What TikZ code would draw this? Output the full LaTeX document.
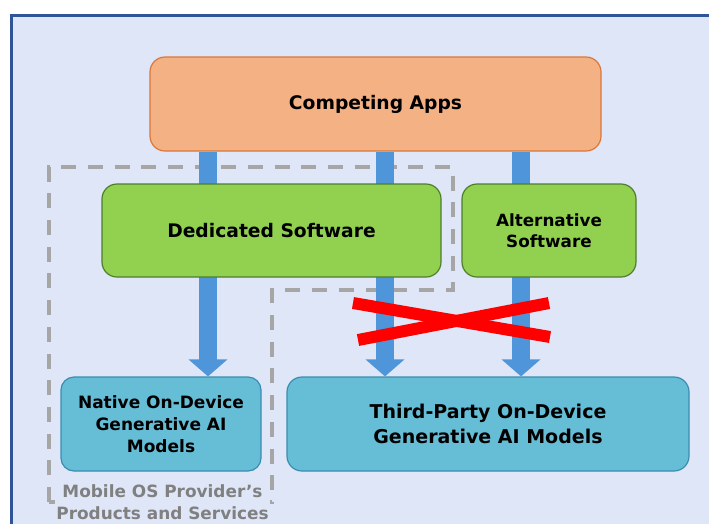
\documentclass[tikz,border=0pt]{standalone}
\usepackage{fontspec}
\setmainfont{DejaVu Sans}
\usetikzlibrary{arrows.meta}
\pgfdeclarelayer{back}
\pgfdeclarelayer{mid}
\pgfsetlayers{back,mid,main}
\definecolor{bgblue}{HTML}{DEE6F7}
\definecolor{framec}{HTML}{2F5597}
\definecolor{orfill}{HTML}{F4B183}
\definecolor{ordraw}{HTML}{D9783C}
\definecolor{grfill}{HTML}{92D050}
\definecolor{grdraw}{HTML}{4E7E2E}
\definecolor{tlfill}{HTML}{65BDD6}
\definecolor{tldraw}{HTML}{3A8DB0}
\definecolor{flowc}{HTML}{4E95D9}
\definecolor{dashc}{HTML}{A6A6A6}
\definecolor{labelc}{HTML}{808080}
\tikzset{
  box/.style={draw, line width=1.2pt, rounded corners=15pt, align=center,
    inner sep=0pt, text=black, font=\bfseries\fontsize{18.7}{24}\selectfont},
  orbox/.style={box, fill=orfill, draw=ordraw},
  grbox/.style={box, fill=grfill, draw=grdraw},
  tlbox/.style={box, fill=tlfill, draw=tldraw},
  flow/.style={draw=flowc, line width=18pt,
    -{Triangle[width=38pt,length=17pt]}},
  region/.style={draw=dashc, line width=3.3pt, dash pattern=on 15pt off 11.7pt},
  cross/.style={draw=red, line width=12pt}
}
\begin{document}
\begin{tikzpicture}[x=1pt,y=-1pt]
\useasboundingbox (0,0) rectangle (709,523);
\clip (0,0) rectangle (709,523);

% boxes
\node[orbox, minimum width=451pt, minimum height=94pt] (compete) at (375.5,104) {Competing Apps};
\node[grbox, minimum width=339pt, minimum height=93pt] (dedicated) at (271.5,230.5) {Dedicated Software};
\node[grbox, minimum width=174pt, minimum height=93pt,
  font=\bfseries\fontsize{16.8}{21}\selectfont] (alt) at (549,230.5) {Alternative\\Software};
\node[tlbox, minimum width=200pt, minimum height=94pt, rounded corners=13pt,
  font=\bfseries\fontsize{17}{22}\selectfont] (native) at (161,424) {Native On-Device\\Generative AI\\Models};
\node[tlbox, minimum width=402pt, minimum height=94pt,
  font=\bfseries\fontsize{19}{25}\selectfont] (third) at (488,424) {Third-Party On-Device\\Generative AI Models};

% arrow columns
\coordinate (c1) at (208,0);
\coordinate (c2) at (385,0);
\coordinate (c3) at (521,0);

% arrows run under the boxes
\begin{pgfonlayer}{mid}
\draw[flow] (c1 |- compete.south) -- (c1 |- native.north);
\draw[flow] (c2 |- compete.south) -- (c2 |- third.north);
\draw[flow] (c3 |- compete.south) -- (c3 |- third.north);
\end{pgfonlayer}

% panel and dashed region of the OS provider
\begin{pgfonlayer}{back}
\fill[white] (0,0) rectangle (709,523);
\draw[framec, line width=3pt, fill=bgblue] (11,15) rectangle (740,560);
\draw[region] (49,502) -- (49,167) -- (453,167) -- (453,290) -- (272,290) -- (272,502) -- cycle;
\end{pgfonlayer}

% blocked access
\coordinate (x1) at (353,303);
\coordinate (x2) at (550,337);
\coordinate (x3) at (358,340);
\coordinate (x4) at (549,303);
\draw[cross] (x1) -- (x2);
\draw[cross] (x3) -- (x4);

% region caption
\node[fill=bgblue, inner sep=1pt, align=center, text=labelc,
  font=\bfseries\fontsize{16.9}{22}\selectfont] (osprov) at (162.5,502) {Mobile OS Provider’s\\Products and Services};
\end{tikzpicture}
\end{document}
